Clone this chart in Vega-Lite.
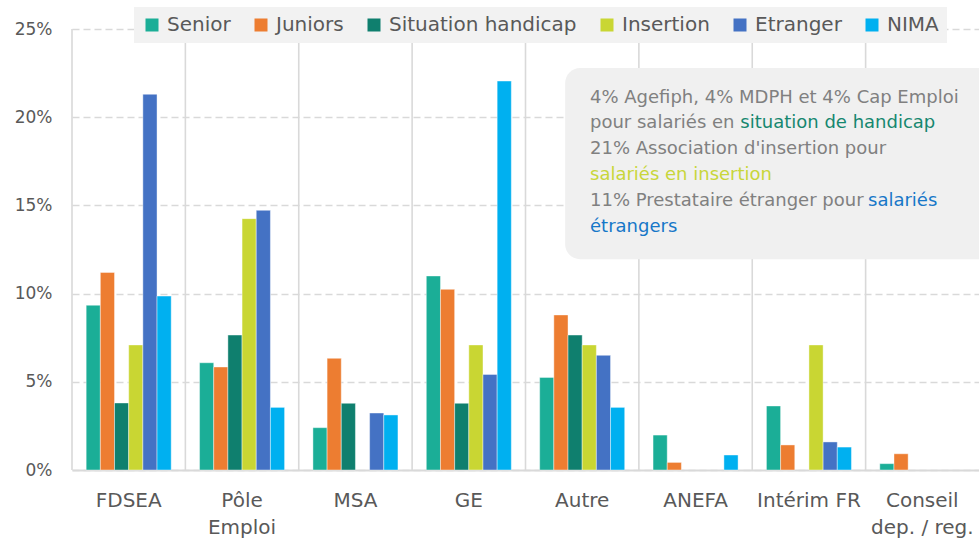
{
  "$schema": "https://vega.github.io/schema/vega-lite/v6.json",
  "width": 907,
  "height": 441,
  "autosize": {"type": "none"},
  "padding": {"left": 72, "top": 29, "right": 0, "bottom": 70},
  "background": "white",
  "config": {"view": {"stroke": null}, "font": "DejaVu Sans"},
  "datasets": {
    "bars": [
      {"categorie": "FDSEA", "serie": "Senior", "valeur": 9.34},
      {"categorie": "FDSEA", "serie": "Juniors", "valeur": 11.2},
      {"categorie": "FDSEA", "serie": "Situation handicap", "valeur": 3.8},
      {"categorie": "FDSEA", "serie": "Insertion", "valeur": 7.09},
      {"categorie": "FDSEA", "serie": "Etranger", "valeur": 21.3},
      {"categorie": "FDSEA", "serie": "NIMA", "valeur": 9.86},
      {"categorie": "Pôle Emploi", "serie": "Senior", "valeur": 6.08},
      {"categorie": "Pôle Emploi", "serie": "Juniors", "valeur": 5.84},
      {"categorie": "Pôle Emploi", "serie": "Situation handicap", "valeur": 7.65},
      {"categorie": "Pôle Emploi", "serie": "Insertion", "valeur": 14.25},
      {"categorie": "Pôle Emploi", "serie": "Etranger", "valeur": 14.72},
      {"categorie": "Pôle Emploi", "serie": "NIMA", "valeur": 3.55},
      {"categorie": "MSA", "serie": "Senior", "valeur": 2.4},
      {"categorie": "MSA", "serie": "Juniors", "valeur": 6.33},
      {"categorie": "MSA", "serie": "Situation handicap", "valeur": 3.78},
      {"categorie": "MSA", "serie": "Etranger", "valeur": 3.23},
      {"categorie": "MSA", "serie": "NIMA", "valeur": 3.12},
      {"categorie": "GE", "serie": "Senior", "valeur": 11.0},
      {"categorie": "GE", "serie": "Juniors", "valeur": 10.24},
      {"categorie": "GE", "serie": "Situation handicap", "valeur": 3.78},
      {"categorie": "GE", "serie": "Insertion", "valeur": 7.09},
      {"categorie": "GE", "serie": "Etranger", "valeur": 5.42},
      {"categorie": "GE", "serie": "NIMA", "valeur": 22.05},
      {"categorie": "Autre", "serie": "Senior", "valeur": 5.25},
      {"categorie": "Autre", "serie": "Juniors", "valeur": 8.79},
      {"categorie": "Autre", "serie": "Situation handicap", "valeur": 7.65},
      {"categorie": "Autre", "serie": "Insertion", "valeur": 7.09},
      {"categorie": "Autre", "serie": "Etranger", "valeur": 6.5},
      {"categorie": "Autre", "serie": "NIMA", "valeur": 3.55},
      {"categorie": "ANEFA", "serie": "Senior", "valeur": 1.98},
      {"categorie": "ANEFA", "serie": "Juniors", "valeur": 0.43},
      {"categorie": "ANEFA", "serie": "NIMA", "valeur": 0.85},
      {"categorie": "Intérim FR", "serie": "Senior", "valeur": 3.63},
      {"categorie": "Intérim FR", "serie": "Juniors", "valeur": 1.42},
      {"categorie": "Intérim FR", "serie": "Insertion", "valeur": 7.09},
      {"categorie": "Intérim FR", "serie": "Etranger", "valeur": 1.59},
      {"categorie": "Intérim FR", "serie": "NIMA", "valeur": 1.3},
      {"categorie": "Conseil dep. / reg.", "serie": "Senior", "valeur": 0.36},
      {"categorie": "Conseil dep. / reg.", "serie": "Juniors", "valeur": 0.92}
    ],
    "cats": [
      {"categorie": "FDSEA"},
      {"categorie": "Pôle Emploi"},
      {"categorie": "MSA"},
      {"categorie": "GE"},
      {"categorie": "Autre"},
      {"categorie": "ANEFA"},
      {"categorie": "Intérim FR"},
      {"categorie": "Conseil dep. / reg."}
    ]
  },
  "layer": [
    {
      "layer": [
        {
          "data": {"name": "bars"},
          "mark": {"type": "bar", "stroke": "white", "strokeWidth": 0.6, "strokeOpacity": 0.7},
          "encoding": {
            "x": {
              "field": "categorie", "type": "nominal",
              "sort": ["FDSEA", "Pôle Emploi", "MSA", "GE", "Autre", "ANEFA", "Intérim FR", "Conseil dep. / reg."],
              "scale": {"paddingInner": 0, "paddingOuter": 0},
              "axis": {
                "title": null, "labelAngle": 0, "ticks": false, "grid": false,
                "domainColor": "#D9D9D9", "domainWidth": 2,
                "labelFont": "DejaVu Sans", "labelFontSize": 20, "labelColor": "#595959",
                "labelPadding": 20, "labelLineHeight": 27,
                "labelExpr": "datum.value == 'Pôle Emploi' ? ['Pôle', 'Emploi'] : datum.value == 'Conseil dep. / reg.' ? ['Conseil', 'dep. / reg.'] : datum.label"
              }
            },
            "xOffset": {
              "field": "serie", "type": "nominal",
              "scale": {"domain": ["Senior", "Juniors", "Situation handicap", "Insertion", "Etranger", "NIMA"], "paddingInner": 0, "paddingOuter": 1.08}
            },
            "y": {
              "field": "valeur", "type": "quantitative",
              "scale": {"domain": [0, 25], "nice": false},
              "axis": {
                "title": null, "values": [0, 5, 10, 15, 20, 25],
                "labelExpr": "datum.value + '%'",
                "domain": false, "ticks": false,
                "gridColor": "#D9D9D9", "gridDash": [7, 4], "gridWidth": 1.6,
                "labelFont": "DejaVu Sans", "labelFontSize": 17, "labelColor": "#595959", "labelPadding": 20
              }
            },
            "color": {
              "field": "serie", "type": "nominal",
              "scale": {
                "domain": ["Senior", "Juniors", "Situation handicap", "Insertion", "Etranger", "NIMA"],
                "range": ["#1BAE97", "#ED7D31", "#0F7F6E", "#C9D633", "#4472C4", "#00B0F0"]
              },
              "legend": {
                "orient": "none", "legendX": 62, "legendY": -22,
                "direction": "horizontal", "columns": 6, "title": null,
                "fillColor": "#F2F2F2", "padding": 8,
                "symbolType": "square", "symbolSize": 169, "symbolStrokeWidth": 0, "symbolOpacity": 1,
                "labelFont": "DejaVu Sans", "labelFontSize": 20, "labelColor": "#595959",
                "labelLimit": 300, "labelOffset": 5, "columnPadding": 20
              }
            }
          }
        },
        {
          "data": {"name": "cats"},
          "mark": {"type": "rule", "color": "#D9D9D9", "strokeWidth": 1.6},
          "encoding": {
            "x": {
              "field": "categorie", "type": "nominal", "bandPosition": 0,
              "sort": ["FDSEA", "Pôle Emploi", "MSA", "GE", "Autre", "ANEFA", "Intérim FR", "Conseil dep. / reg."],
              "scale": {"paddingInner": 0, "paddingOuter": 0}
            },
            "y": {"datum": 0, "type": "quantitative"},
            "y2": {"datum": 25}
          }
        }
      ]
    },
    {
      "data": {"values": [{}]},
      "layer": [
        {
          "mark": {"type": "rect", "color": "#F0F0F0", "cornerRadius": 15, "clip": true},
          "encoding": {
            "x": {"datum": 4.35, "type": "quantitative", "scale": {"domain": [0, 8], "nice": false, "zero": false}, "axis": null},
            "x2": {"datum": 8.3},
            "y": {"datum": 22.79, "type": "quantitative"},
            "y2": {"datum": 11.95}
          }
        },
        {
          "mark": {"type": "text", "font": "DejaVu Sans", "fontSize": 18, "align": "left", "baseline": "alphabetic", "color": "#808080"},
          "encoding": {
            "x": {"datum": 4.569, "type": "quantitative", "axis": null},
            "y": {"datum": 20.82, "type": "quantitative"},
            "text": {"value": "4% Agefiph, 4% MDPH et 4% Cap Emploi"}
          }
        },
        {
          "mark": {"type": "text", "font": "DejaVu Sans", "fontSize": 18, "align": "left", "baseline": "alphabetic", "color": "#808080"},
          "encoding": {
            "x": {"datum": 4.569, "type": "quantitative", "axis": null},
            "y": {"datum": 19.37, "type": "quantitative"},
            "text": {"value": "pour salariés en"}
          }
        },
        {
          "mark": {"type": "text", "font": "DejaVu Sans", "fontSize": 18, "align": "left", "baseline": "alphabetic", "color": "#16876F"},
          "encoding": {
            "x": {"datum": 5.895, "type": "quantitative", "axis": null},
            "y": {"datum": 19.37, "type": "quantitative"},
            "text": {"value": "situation de handicap"}
          }
        },
        {
          "mark": {"type": "text", "font": "DejaVu Sans", "fontSize": 18, "align": "left", "baseline": "alphabetic", "color": "#808080"},
          "encoding": {
            "x": {"datum": 4.569, "type": "quantitative", "axis": null},
            "y": {"datum": 17.91, "type": "quantitative"},
            "text": {"value": "21% Association d'insertion pour"}
          }
        },
        {
          "mark": {"type": "text", "font": "DejaVu Sans", "fontSize": 18, "align": "left", "baseline": "alphabetic", "color": "#C8D63A"},
          "encoding": {
            "x": {"datum": 4.569, "type": "quantitative", "axis": null},
            "y": {"datum": 16.44, "type": "quantitative"},
            "text": {"value": "salariés en insertion"}
          }
        },
        {
          "mark": {"type": "text", "font": "DejaVu Sans", "fontSize": 18, "align": "left", "baseline": "alphabetic", "color": "#808080"},
          "encoding": {
            "x": {"datum": 4.569, "type": "quantitative", "axis": null},
            "y": {"datum": 14.98, "type": "quantitative"},
            "text": {"value": "11% Prestataire étranger pour"}
          }
        },
        {
          "mark": {"type": "text", "font": "DejaVu Sans", "fontSize": 18, "align": "left", "baseline": "alphabetic", "color": "#1677C8"},
          "encoding": {
            "x": {"datum": 7.021, "type": "quantitative", "axis": null},
            "y": {"datum": 14.98, "type": "quantitative"},
            "text": {"value": "salariés"}
          }
        },
        {
          "mark": {"type": "text", "font": "DejaVu Sans", "fontSize": 18, "align": "left", "baseline": "alphabetic", "color": "#1677C8"},
          "encoding": {
            "x": {"datum": 4.569, "type": "quantitative", "axis": null},
            "y": {"datum": 13.51, "type": "quantitative"},
            "text": {"value": "étrangers"}
          }
        }
      ]
    }
  ],
  "resolve": {"scale": {"x": "independent"}}
}
